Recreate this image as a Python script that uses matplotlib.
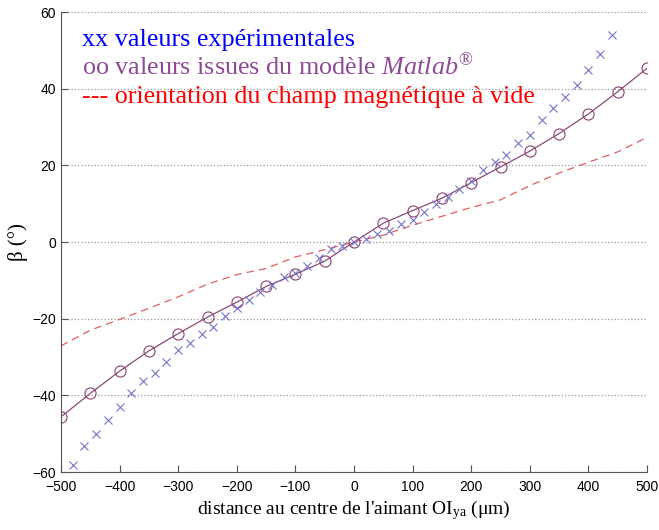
import numpy as np
import matplotlib.pyplot as plt

plt.rcParams['mathtext.fontset'] = 'custom'
plt.rcParams['mathtext.rm'] = 'Liberation Serif'
plt.rcParams['mathtext.it'] = 'Liberation Serif:italic'

# valeurs experimentales (x)
x_exp = np.arange(-480, 441, 20)
y_exp = [-58.2, -53.1, -50.2, -46.4, -43.0, -39.3, -36.3, -34.2, -31.2, -28.3,
         -26.3, -24.1, -22.1, -19.2, -17.2, -15.2, -13.0, -11.2, -9.2, -8.0,
         -6.2, -4.1, -1.9, -1.0, 0.0, 0.8, 2.0, 2.9, 4.8, 5.8,
         7.9, 9.9, 11.8, 13.9, 16.0, 18.8, 21.0, 22.8, 25.9, 28.0,
         31.8, 34.9, 37.9, 40.9, 44.9, 49.0, 54.0]

# modele Matlab (o)
x_mod = np.arange(-500, 501, 50)
y_mod = [-45.6, -39.5, -33.7, -28.4, -23.9, -19.6, -15.7, -11.6, -8.4, -5.0, 0.0,
         4.9, 8.2, 11.4, 15.5, 19.6, 23.7, 28.3, 33.4, 39.2, 45.3]

# champ a vide (--)
x_vide = np.arange(-500, 501, 50)
y_vide = [-27.1, -23.0, -20.2, -17.3, -14.3, -11.0, -8.5, -6.9, -3.9, -2.0, 0.0,
          1.8, 4.4, 6.7, 9.0, 11.0, 14.7, 18.0, 20.8, 23.5, 27.3]

fig = plt.figure(figsize=(6.59, 5.30), dpi=100)
ax = fig.add_axes([61/659, 1-472/530, 586/659, 460/530])

ax.plot(x_vide, y_vide, '--', color='#e06060', lw=0.9, dashes=(6, 4))
ax.plot(x_mod, y_mod, '-', color='#8a4a78', lw=0.9)
ax.plot(x_mod, y_mod, 'o', mfc='none', mec='#8a3f70', ms=8, mew=0.8)
ax.plot(x_exp, y_exp, 'x', color='#7474cc', ms=6, mew=0.8)

ax.set_xlim(-500, 500)
ax.set_ylim(-60, 60)
ax.set_xticks(np.arange(-500, 501, 100))
ax.set_yticks(np.arange(-60, 61, 20))
for s in ['top', 'right']:
    ax.spines[s].set_visible(False)
for s in ['left', 'bottom']:
    ax.spines[s].set_color('#555555')
ax.tick_params(direction='in', length=5, color='#555555', labelsize=10)
ax.tick_params(axis='x', pad=6)
for lbl in ax.get_xticklabels() + ax.get_yticklabels():
    lbl.set_fontfamily('Liberation Sans')
ax.yaxis.grid(True, ls=':', color='#999999', lw=0.9)
ax.set_axisbelow(True)

ax.set_xlabel("distance au centre de l'aimant OI$_{\\rm ya}$ (μm)",
              family='Liberation Serif', fontsize=14, labelpad=3)
ax.set_ylabel('β (°)', family='Liberation Serif', fontsize=15, labelpad=3)

ax.text(0.036, 0.94, 'xx valeurs expérimentales', transform=ax.transAxes,
        family='Liberation Serif', fontsize=18.8, color='#0000ff', va='center')
ax.text(0.036, 0.88, 'oo valeurs issues du modèle $\\it{Matlab}^{®}$',
        transform=ax.transAxes, family='Liberation Serif', fontsize=18.8,
        color='#8e4a96', va='center')
ax.text(0.036, 0.815, '--- orientation du champ magnétique à vide',
        transform=ax.transAxes, family='Liberation Serif', fontsize=18.8,
        color='#ff0000', va='center')

fig.savefig('out.png', dpi=100)
